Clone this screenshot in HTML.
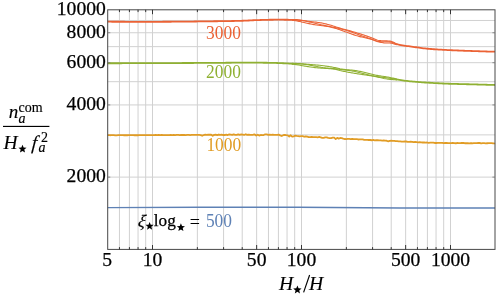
<!DOCTYPE html>
<html><head><meta charset="utf-8"><title>plot</title>
<style>html,body{margin:0;padding:0;background:#fff;overflow:hidden}svg{display:block;will-change:transform;}text{font-family:"Liberation Serif",serif;}</style></head><body>
<svg width="498" height="295" viewBox="0 0 498 295">
<rect width="498" height="295" fill="#fff"/>
<g stroke="#d1d1d1" stroke-width="1" fill="none">
<line x1="119.45" y1="9.80" x2="119.45" y2="249.40"/>
<line x1="129.42" y1="9.80" x2="129.42" y2="249.40"/>
<line x1="138.06" y1="9.80" x2="138.06" y2="249.40"/>
<line x1="145.69" y1="9.80" x2="145.69" y2="249.40"/>
<line x1="152.50" y1="9.80" x2="152.50" y2="249.40"/>
<line x1="197.36" y1="9.80" x2="197.36" y2="249.40"/>
<line x1="223.59" y1="9.80" x2="223.59" y2="249.40"/>
<line x1="242.21" y1="9.80" x2="242.21" y2="249.40"/>
<line x1="256.65" y1="9.80" x2="256.65" y2="249.40"/>
<line x1="268.45" y1="9.80" x2="268.45" y2="249.40"/>
<line x1="278.42" y1="9.80" x2="278.42" y2="249.40"/>
<line x1="287.06" y1="9.80" x2="287.06" y2="249.40"/>
<line x1="294.69" y1="9.80" x2="294.69" y2="249.40"/>
<line x1="301.50" y1="9.80" x2="301.50" y2="249.40"/>
<line x1="346.36" y1="9.80" x2="346.36" y2="249.40"/>
<line x1="372.59" y1="9.80" x2="372.59" y2="249.40"/>
<line x1="391.21" y1="9.80" x2="391.21" y2="249.40"/>
<line x1="405.65" y1="9.80" x2="405.65" y2="249.40"/>
<line x1="417.45" y1="9.80" x2="417.45" y2="249.40"/>
<line x1="427.42" y1="9.80" x2="427.42" y2="249.40"/>
<line x1="436.06" y1="9.80" x2="436.06" y2="249.40"/>
<line x1="443.69" y1="9.80" x2="443.69" y2="249.40"/>
<line x1="450.50" y1="9.80" x2="450.50" y2="249.40"/>
<line x1="107.70" y1="177.11" x2="495.00" y2="177.11"/>
<line x1="107.70" y1="134.89" x2="495.00" y2="134.89"/>
<line x1="107.70" y1="104.93" x2="495.00" y2="104.93"/>
<line x1="107.70" y1="81.69" x2="495.00" y2="81.69"/>
<line x1="107.70" y1="62.70" x2="495.00" y2="62.70"/>
<line x1="107.70" y1="46.65" x2="495.00" y2="46.65"/>
<line x1="107.70" y1="32.74" x2="495.00" y2="32.74"/>
<line x1="107.70" y1="20.47" x2="495.00" y2="20.47"/>
</g>
<path d="M107.70,207.60 L200.00,207.20 L298.00,207.20 L400.00,208.00 L495.00,208.00" fill="none" stroke="#5E81B5" stroke-width="1.45" stroke-linejoin="round"/>
<path d="M107.70,135.13 L109.20,135.16 L110.70,135.23 L112.20,135.06 L113.70,135.12 L115.20,135.33 L116.70,135.28 L118.20,135.22 L119.70,135.22 L121.20,135.18 L122.70,135.22 L124.20,135.24 L125.70,135.11 L127.20,135.26 L128.70,135.22 L130.20,135.21 L131.70,135.12 L133.20,135.13 L134.70,135.25 L136.20,135.04 L137.70,135.26 L139.20,135.17 L140.70,135.13 L142.20,135.08 L143.70,135.14 L145.20,135.16 L146.70,135.21 L148.20,135.15 L149.70,135.20 L151.20,135.21 L152.70,135.15 L154.20,135.17 L155.70,135.02 L157.20,135.17 L158.70,134.95 L160.20,135.04 L161.70,135.00 L163.20,135.15 L164.70,135.08 L166.20,135.10 L167.70,135.14 L169.20,135.03 L170.70,134.97 L172.20,135.04 L173.70,134.93 L175.20,135.03 L176.70,134.87 L178.20,134.94 L179.70,135.10 L181.20,134.97 L182.70,135.01 L184.20,134.98 L185.70,135.08 L187.20,134.94 L188.70,134.87 L190.20,135.08 L191.70,134.95 L193.20,134.91 L194.70,134.79 L196.20,134.95 L197.70,134.95 L199.20,134.95 L200.70,135.07 L202.20,135.81 L203.70,135.03 L205.20,134.66 L206.70,134.94 L208.20,134.74 L209.70,134.73 L211.20,134.66 L212.70,135.75 L214.20,134.87 L215.70,134.64 L217.20,135.04 L218.70,134.51 L220.20,134.93 L221.70,134.60 L223.20,135.02 L224.70,135.02 L226.20,134.58 L227.70,135.03 L229.20,134.46 L230.70,134.70 L232.20,134.93 L233.70,134.39 L235.20,134.91 L236.70,134.90 L238.20,134.32 L239.70,134.87 L241.20,134.49 L242.70,134.55 L244.20,134.96 L245.70,134.19 L247.20,134.92 L248.70,134.55 L250.20,134.96 L251.70,134.81 L253.20,134.74 L254.70,134.43 L256.20,135.54 L257.70,134.71 L259.20,135.57 L260.70,135.00 L262.20,135.03 L263.70,135.03 L265.20,134.31 L266.70,134.46 L268.20,134.90 L269.70,134.71 L271.20,134.91 L272.70,134.63 L274.20,134.85 L275.70,134.78 L277.20,134.97 L278.70,134.69 L280.20,135.36 L281.70,135.98 L283.20,135.23 L284.70,134.83 L286.20,135.11 L287.70,135.35 L289.20,136.46 L290.70,135.28 L292.20,136.70 L293.70,136.30 L295.20,135.66 L296.70,135.96 L298.20,136.09 L299.70,136.37 L301.20,136.13 L302.70,136.16 L304.20,136.74 L305.70,136.29 L307.20,136.62 L308.70,137.04 L310.20,137.14 L311.70,136.91 L313.20,137.04 L314.70,137.05 L316.20,137.16 L317.70,137.30 L319.20,136.99 L320.70,137.36 L322.20,137.87 L323.70,137.91 L325.20,137.45 L326.70,137.41 L328.20,137.93 L329.70,138.12 L331.20,138.14 L332.70,137.69 L334.20,137.68 L335.70,139.09 L337.20,137.90 L338.70,138.64 L340.20,138.00 L341.70,138.16 L343.20,138.70 L344.70,139.01 L346.20,139.20 L347.70,138.91 L349.20,138.97 L350.70,139.07 L352.20,138.84 L353.70,139.15 L355.20,139.09 L356.70,139.18 L358.20,139.49 L359.70,139.40 L361.20,139.47 L362.70,139.44 L364.20,139.92 L365.70,139.89 L367.20,139.95 L368.70,140.02 L370.20,140.01 L371.70,140.26 L373.20,139.98 L374.70,140.41 L376.20,140.27 L377.70,140.22 L379.20,140.29 L380.70,140.40 L382.20,140.63 L383.70,140.52 L385.20,140.63 L386.70,140.77 L388.20,141.28 L389.70,140.84 L391.20,140.76 L392.70,140.89 L394.20,140.88 L395.70,141.09 L397.20,141.15 L398.70,141.38 L400.20,141.29 L401.70,141.54 L403.20,141.56 L404.70,141.52 L406.20,141.50 L407.70,141.78 L409.20,141.94 L410.70,141.72 L412.20,141.81 L413.70,142.19 L415.20,142.00 L416.70,142.10 L418.20,142.37 L419.70,142.15 L421.20,142.31 L422.70,142.50 L424.20,142.31 L425.70,142.55 L427.20,142.50 L428.70,142.87 L430.20,142.72 L431.70,142.63 L433.20,142.59 L434.70,142.98 L436.20,143.02 L437.70,142.97 L439.20,142.78 L440.70,142.97 L442.20,142.81 L443.70,143.15 L445.20,142.98 L446.70,142.98 L448.20,143.10 L449.70,143.05 L451.20,143.10 L452.70,142.90 L454.20,143.13 L455.70,143.27 L457.20,143.01 L458.70,143.14 L460.20,143.17 L461.70,143.02 L463.20,142.92 L464.70,143.24 L466.20,143.24 L467.70,143.03 L469.20,143.31 L470.70,143.15 L472.20,143.27 L473.70,143.08 L475.20,143.18 L476.70,143.10 L478.20,143.00 L479.70,143.00 L481.20,143.31 L482.70,143.04 L484.20,143.15 L485.70,143.33 L487.20,143.23 L488.70,143.15 L490.20,143.21 L491.70,143.07 L493.20,143.33 L494.70,143.34 L495.00,143.20" fill="none" stroke="#E19C24" stroke-width="1.8" stroke-linejoin="round"/>
<path d="M107.70,63.25 L109.20,63.25 L110.70,63.25 L112.20,63.24 L113.70,63.24 L115.20,63.24 L116.70,63.23 L118.20,63.23 L119.70,63.23 L121.20,63.23 L122.70,63.22 L124.20,63.22 L125.70,63.22 L127.20,63.21 L128.70,63.21 L130.20,63.20 L131.70,63.20 L133.20,63.20 L134.70,63.19 L136.20,63.19 L137.70,63.18 L139.20,63.18 L140.70,63.18 L142.20,63.17 L143.70,63.17 L145.20,63.16 L146.70,63.16 L148.20,63.15 L149.70,63.15 L151.20,63.14 L152.70,63.14 L154.20,63.13 L155.70,63.13 L157.20,63.12 L158.70,63.12 L160.20,63.11 L161.70,63.11 L163.20,63.10 L164.70,63.09 L166.20,63.09 L167.70,63.08 L169.20,63.08 L170.70,63.07 L172.20,63.07 L173.70,63.06 L175.20,63.05 L176.70,63.05 L178.20,63.04 L179.70,63.04 L181.20,63.03 L182.70,63.02 L184.20,63.02 L185.70,63.01 L187.20,63.00 L188.70,63.00 L190.20,62.99 L191.70,62.99 L193.20,62.98 L194.70,62.97 L196.20,62.97 L197.70,62.96 L199.20,62.95 L200.70,62.95 L202.20,62.94 L203.70,62.93 L205.20,62.92 L206.70,62.91 L208.20,62.90 L209.70,62.89 L211.20,62.88 L212.70,62.87 L214.20,62.86 L215.70,62.85 L217.20,62.84 L218.70,62.82 L220.20,62.81 L221.70,62.80 L223.20,62.79 L224.70,62.78 L226.20,62.76 L227.70,62.75 L229.20,62.74 L230.70,62.73 L232.20,62.72 L233.70,62.71 L235.20,62.70 L236.70,62.69 L238.20,62.68 L239.70,62.68 L241.20,62.67 L242.70,62.66 L244.20,62.66 L245.70,62.65 L247.20,62.65 L248.70,62.65 L250.20,62.65 L251.70,62.65 L253.20,62.65 L254.70,62.66 L256.20,62.67 L257.70,62.68 L259.20,62.69 L260.70,62.70 L262.20,62.71 L263.70,62.73 L265.20,62.74 L266.70,62.76 L268.20,62.78 L269.70,62.80 L271.20,62.82 L272.70,62.85 L274.20,62.89 L275.70,62.94 L277.20,62.99 L278.70,63.05 L280.20,63.11 L281.70,63.17 L283.20,63.24 L284.70,63.31 L286.20,63.39 L287.70,63.47 L289.20,63.56 L290.70,63.66 L292.20,63.76 L293.00,63.81" fill="none" stroke="#8FB032" stroke-width="1.8" stroke-linejoin="round"/>
<path d="M396.50,79.44 L398.00,79.67 L399.50,79.89 L401.00,80.12 L402.50,80.34 L404.00,80.56 L405.50,80.77 L407.00,80.96 L408.50,81.14 L410.00,81.30 L411.50,81.45 L413.00,81.59 L414.50,81.72 L416.00,81.84 L417.50,81.97 L419.00,82.08 L420.50,82.19 L422.00,82.30 L423.50,82.40 L425.00,82.50 L426.50,82.59 L428.00,82.68 L429.50,82.77 L431.00,82.86 L432.50,82.94 L434.00,83.03 L435.50,83.11 L437.00,83.19 L438.50,83.27 L440.00,83.34 L441.50,83.41 L443.00,83.48 L444.50,83.55 L446.00,83.61 L447.50,83.67 L449.00,83.73 L450.50,83.78 L452.00,83.83 L453.50,83.88 L455.00,83.93 L456.50,83.97 L458.00,84.01 L459.50,84.05 L461.00,84.09 L462.50,84.12 L464.00,84.16 L465.50,84.19 L467.00,84.23 L468.50,84.26 L470.00,84.30 L471.50,84.34 L473.00,84.38 L474.50,84.42 L476.00,84.46 L477.50,84.50 L479.00,84.54 L480.50,84.59 L482.00,84.63 L483.50,84.67 L485.00,84.71 L486.50,84.75 L488.00,84.80 L489.50,84.84 L491.00,84.88 L492.50,84.93 L494.00,84.97 L495.00,85.00" fill="none" stroke="#8FB032" stroke-width="1.8" stroke-linejoin="round"/>
<path d="M292.00,63.29 L293.00,63.36 L294.00,63.36 L295.00,63.37 L296.00,63.39 L297.00,63.43 L298.00,63.48 L299.00,63.55 L300.00,63.62 L301.00,63.69 L302.00,63.76 L303.00,63.86 L304.00,63.96 L305.00,64.06 L306.00,64.15 L307.00,64.24 L308.00,64.32 L309.00,64.40 L310.00,64.48 L311.00,64.56 L312.00,64.63 L313.00,64.70 L314.00,64.78 L315.00,64.86 L316.00,64.94 L317.00,65.03 L318.00,65.12 L319.00,65.22 L320.00,65.33 L321.00,65.44 L322.00,65.56 L323.00,65.69 L324.00,65.82 L325.00,65.96 L326.00,66.10 L327.00,66.24 L328.00,66.40 L329.00,66.55 L330.00,66.72 L331.00,66.89 L332.00,67.06 L333.00,67.24 L334.00,67.43 L335.00,67.62 L336.00,67.81 L337.00,68.01 L338.00,68.26 L339.00,68.52 L340.00,68.76 L341.00,68.95 L342.00,69.11 L343.00,69.26 L344.00,69.39 L345.00,69.50 L346.00,69.60 L347.00,69.69 L348.00,69.78 L349.00,69.86 L350.00,69.94 L351.00,70.03 L352.00,70.12 L353.00,70.23 L354.00,70.34 L355.00,70.48 L356.00,70.62 L357.00,70.79 L358.00,70.97 L359.00,71.16 L360.00,71.37 L361.00,71.59 L362.00,71.82 L363.00,72.06 L364.00,72.31 L365.00,72.56 L366.00,72.82 L367.00,73.08 L368.00,73.34 L369.00,73.59 L370.00,73.84 L371.00,74.09 L372.00,74.33 L373.00,74.57 L374.00,74.79 L375.00,75.00 L376.00,75.21 L377.00,75.40 L378.00,75.58 L379.00,75.75 L380.00,75.90 L381.00,76.05 L382.00,76.18 L383.00,76.31 L384.00,76.43 L385.00,76.58 L386.00,76.74 L387.00,76.91 L388.00,77.09 L389.00,77.28 L390.00,77.48 L391.00,77.69 L392.00,77.91 L393.00,78.13 L394.00,78.36 L395.00,78.60 L396.00,78.83 L397.00,79.07" fill="none" stroke="#8FB032" stroke-width="1.08" stroke-linejoin="round"/>
<path d="M292.00,63.74 L293.00,63.81 L294.00,63.86 L295.00,63.91 L296.00,63.94 L297.00,63.96 L298.00,63.99 L299.00,64.00 L300.00,64.02 L301.00,64.04 L302.00,64.07 L303.00,64.15 L304.00,64.26 L305.00,64.38 L306.00,64.51 L307.00,64.66 L308.00,64.82 L309.00,64.98 L310.00,65.16 L311.00,65.35 L312.00,65.54 L313.00,65.74 L314.00,65.93 L315.00,66.13 L316.00,66.33 L317.00,66.53 L318.00,66.73 L319.00,66.92 L320.00,67.10 L321.00,67.27 L322.00,67.43 L323.00,67.59 L324.00,67.72 L325.00,67.85 L326.00,67.96 L327.00,68.06 L328.00,68.16 L329.00,68.24 L330.00,68.32 L331.00,68.40 L332.00,68.47 L333.00,68.54 L334.00,68.62 L335.00,68.70 L336.00,68.79 L337.00,68.89 L338.00,69.05 L339.00,69.23 L340.00,69.40 L341.00,69.53 L342.00,69.65 L343.00,69.77 L344.00,69.88 L345.00,69.99 L346.00,70.11 L347.00,70.23 L348.00,70.35 L349.00,70.49 L350.00,70.63 L351.00,70.78 L352.00,70.95 L353.00,71.13 L354.00,71.33 L355.00,71.54 L356.00,71.76 L357.00,72.00 L358.00,72.24 L359.00,72.50 L360.00,72.75 L361.00,73.02 L362.00,73.28 L363.00,73.55 L364.00,73.81 L365.00,74.07 L366.00,74.32 L367.00,74.57 L368.00,74.81 L369.00,75.03 L370.00,75.25 L371.00,75.46 L372.00,75.67 L373.00,75.86 L374.00,76.04 L375.00,76.22 L376.00,76.39 L377.00,76.54 L378.00,76.69 L379.00,76.84 L380.00,76.97 L381.00,77.10 L382.00,77.22 L383.00,77.34 L384.00,77.45 L385.00,77.56 L386.00,77.68 L387.00,77.81 L388.00,77.95 L389.00,78.10 L390.00,78.26 L391.00,78.42 L392.00,78.60 L393.00,78.77 L394.00,78.96 L395.00,79.14 L396.00,79.33 L397.00,79.52" fill="none" stroke="#8FB032" stroke-width="1.08" stroke-linejoin="round"/>
<path d="M292.00,64.19 L293.00,64.26 L294.00,64.37 L295.00,64.48 L296.00,64.60 L297.00,64.74 L298.00,64.88 L299.00,65.05 L300.00,65.23 L301.00,65.42 L302.00,65.64 L303.00,65.79 L304.00,65.95 L305.00,66.11 L306.00,66.27 L307.00,66.43 L308.00,66.60 L309.00,66.76 L310.00,66.91 L311.00,67.06 L312.00,67.20 L313.00,67.34 L314.00,67.47 L315.00,67.59 L316.00,67.70 L317.00,67.80 L318.00,67.90 L319.00,67.98 L320.00,68.06 L321.00,68.14 L322.00,68.21 L323.00,68.27 L324.00,68.33 L325.00,68.38 L326.00,68.43 L327.00,68.49 L328.00,68.55 L329.00,68.61 L330.00,68.69 L331.00,68.78 L332.00,68.88 L333.00,68.99 L334.00,69.12 L335.00,69.28 L336.00,69.45 L337.00,69.64 L338.00,69.89 L339.00,70.18 L340.00,70.46 L341.00,70.70 L342.00,70.93 L343.00,71.16 L344.00,71.38 L345.00,71.59 L346.00,71.79 L347.00,71.99 L348.00,72.17 L349.00,72.36 L350.00,72.54 L351.00,72.71 L352.00,72.88 L353.00,73.05 L354.00,73.21 L355.00,73.38 L356.00,73.54 L357.00,73.70 L358.00,73.86 L359.00,74.02 L360.00,74.17 L361.00,74.32 L362.00,74.47 L363.00,74.62 L364.00,74.76 L365.00,74.91 L366.00,75.06 L367.00,75.20 L368.00,75.35 L369.00,75.50 L370.00,75.65 L371.00,75.81 L372.00,75.98 L373.00,76.15 L374.00,76.34 L375.00,76.53 L376.00,76.72 L377.00,76.93 L378.00,77.14 L379.00,77.36 L380.00,77.58 L381.00,77.81 L382.00,78.04 L383.00,78.27 L384.00,78.50 L385.00,78.68 L386.00,78.84 L387.00,78.99 L388.00,79.13 L389.00,79.26 L390.00,79.38 L391.00,79.48 L392.00,79.58 L393.00,79.66 L394.00,79.74 L395.00,79.82 L396.00,79.89 L397.00,79.97" fill="none" stroke="#8FB032" stroke-width="1.08" stroke-linejoin="round"/>
<path d="M107.70,21.70 L109.20,21.71 L110.70,21.72 L112.20,21.73 L113.70,21.73 L115.20,21.74 L116.70,21.75 L118.20,21.75 L119.70,21.76 L121.20,21.76 L122.70,21.77 L124.20,21.77 L125.70,21.78 L127.20,21.78 L128.70,21.78 L130.20,21.79 L131.70,21.79 L133.20,21.79 L134.70,21.79 L136.20,21.79 L137.70,21.80 L139.20,21.80 L140.70,21.80 L142.20,21.80 L143.70,21.80 L145.20,21.80 L146.70,21.80 L148.20,21.80 L149.70,21.80 L151.20,21.80 L152.70,21.80 L154.20,21.80 L155.70,21.79 L157.20,21.79 L158.70,21.79 L160.20,21.78 L161.70,21.78 L163.20,21.77 L164.70,21.76 L166.20,21.75 L167.70,21.75 L169.20,21.74 L170.70,21.73 L172.20,21.72 L173.70,21.71 L175.20,21.70 L176.70,21.68 L178.20,21.67 L179.70,21.66 L181.20,21.65 L182.70,21.63 L184.20,21.62 L185.70,21.60 L187.20,21.59 L188.70,21.57 L190.20,21.56 L191.70,21.54 L193.20,21.53 L194.70,21.51 L196.20,21.49 L197.70,21.47 L199.20,21.46 L200.70,21.44 L202.20,21.42 L203.70,21.40 L205.20,21.39 L206.70,21.37 L208.20,21.35 L209.70,21.33 L211.20,21.31 L212.70,21.29 L214.20,21.27 L215.70,21.25 L217.20,21.24 L218.70,21.22 L220.20,21.20 L221.70,21.18 L223.20,21.16 L224.70,21.14 L226.20,21.11 L227.70,21.09 L229.20,21.06 L230.70,21.04 L232.20,21.01 L233.70,20.98 L235.20,20.95 L236.70,20.91 L238.20,20.88 L239.70,20.84 L241.20,20.80 L242.70,20.76 L244.20,20.70 L245.70,20.63 L247.20,20.55 L248.70,20.48 L250.20,20.40 L251.70,20.32 L253.20,20.25 L254.70,20.18 L256.20,20.12 L257.70,20.08 L259.20,20.04 L260.70,19.99 L262.20,19.95 L263.70,19.91 L265.20,19.87 L266.70,19.84 L268.20,19.80 L269.70,19.77 L271.20,19.75 L272.70,19.73 L274.20,19.71 L275.70,19.70 L277.20,19.70 L278.70,19.70 L280.20,19.71 L281.70,19.71 L283.20,19.72 L284.70,19.74 L286.20,19.75 L287.70,19.77 L289.20,19.79 L290.70,19.82 L292.20,19.89 L293.00,19.94" fill="none" stroke="#EB6235" stroke-width="1.8" stroke-linejoin="round"/>
<path d="M396.50,44.10 L398.00,44.46 L399.50,44.78 L401.00,45.08 L402.50,45.35 L404.00,45.60 L405.50,45.82 L407.00,46.02 L408.50,46.20 L410.00,46.40 L411.50,46.61 L413.00,46.83 L414.50,47.05 L416.00,47.26 L417.50,47.47 L419.00,47.67 L420.50,47.88 L422.00,48.08 L423.50,48.28 L425.00,48.46 L426.50,48.63 L428.00,48.77 L429.50,48.90 L431.00,49.02 L432.50,49.13 L434.00,49.24 L435.50,49.35 L437.00,49.44 L438.50,49.54 L440.00,49.63 L441.50,49.71 L443.00,49.80 L444.50,49.88 L446.00,49.95 L447.50,50.03 L449.00,50.10 L450.50,50.18 L452.00,50.25 L453.50,50.32 L455.00,50.39 L456.50,50.45 L458.00,50.52 L459.50,50.58 L461.00,50.64 L462.50,50.70 L464.00,50.75 L465.50,50.81 L467.00,50.87 L468.50,50.92 L470.00,50.97 L471.50,51.02 L473.00,51.07 L474.50,51.12 L476.00,51.17 L477.50,51.22 L479.00,51.27 L480.50,51.31 L482.00,51.36 L483.50,51.40 L485.00,51.44 L486.50,51.49 L488.00,51.53 L489.50,51.57 L491.00,51.60 L492.50,51.64 L494.00,51.68 L495.00,51.70" fill="none" stroke="#EB6235" stroke-width="1.8" stroke-linejoin="round"/>
<path d="M292.00,19.43 L293.00,19.49 L294.00,19.50 L295.00,19.52 L296.00,19.56 L297.00,19.63 L298.00,19.73 L299.00,19.85 L300.00,19.98 L301.00,20.12 L302.00,20.25 L303.00,20.42 L304.00,20.58 L305.00,20.74 L306.00,20.89 L307.00,21.03 L308.00,21.17 L309.00,21.30 L310.00,21.43 L311.00,21.55 L312.00,21.67 L313.00,21.80 L314.00,21.92 L315.00,22.04 L316.00,22.16 L317.00,22.29 L318.00,22.42 L319.00,22.56 L320.00,22.72 L321.00,22.88 L322.00,23.06 L323.00,23.25 L324.00,23.45 L325.00,23.67 L326.00,23.90 L327.00,24.15 L328.00,24.42 L329.00,24.69 L330.00,24.98 L331.00,25.29 L332.00,25.60 L333.00,25.91 L334.00,26.24 L335.00,26.56 L336.00,26.89 L337.00,27.21 L338.00,27.53 L339.00,27.84 L340.00,28.14 L341.00,28.44 L342.00,28.73 L343.00,29.02 L344.00,29.29 L345.00,29.55 L346.00,29.81 L347.00,30.07 L348.00,30.33 L349.00,30.59 L350.00,30.87 L351.00,31.14 L352.00,31.43 L353.00,31.71 L354.00,32.01 L355.00,32.30 L356.00,32.60 L357.00,32.90 L358.00,33.20 L359.00,33.50 L360.00,33.81 L361.00,34.12 L362.00,34.44 L363.00,34.76 L364.00,35.09 L365.00,35.43 L366.00,35.78 L367.00,36.13 L368.00,36.48 L369.00,36.84 L370.00,37.20 L371.00,37.57 L372.00,37.94 L373.00,38.34 L374.00,38.77 L375.00,39.20 L376.00,39.61 L377.00,39.97 L378.00,40.26 L379.00,40.45 L380.00,40.57 L381.00,40.66 L382.00,40.72 L383.00,40.77 L384.00,40.79 L385.00,40.83 L386.00,40.87 L387.00,40.90 L388.00,40.94 L389.00,41.00 L390.00,41.10 L391.00,41.31 L392.00,41.64 L393.00,42.06 L394.00,42.52 L395.00,42.98 L396.00,43.41 L397.00,43.77" fill="none" stroke="#EB6235" stroke-width="1.08" stroke-linejoin="round"/>
<path d="M292.00,19.88 L293.00,19.94 L294.00,20.01 L295.00,20.06 L296.00,20.11 L297.00,20.16 L298.00,20.23 L299.00,20.30 L300.00,20.38 L301.00,20.47 L302.00,20.56 L303.00,20.71 L304.00,20.88 L305.00,21.05 L306.00,21.24 L307.00,21.45 L308.00,21.66 L309.00,21.88 L310.00,22.11 L311.00,22.34 L312.00,22.58 L313.00,22.83 L314.00,23.07 L315.00,23.31 L316.00,23.55 L317.00,23.79 L318.00,24.03 L319.00,24.26 L320.00,24.48 L321.00,24.71 L322.00,24.92 L323.00,25.14 L324.00,25.35 L325.00,25.56 L326.00,25.77 L327.00,25.97 L328.00,26.18 L329.00,26.38 L330.00,26.59 L331.00,26.79 L332.00,27.00 L333.00,27.21 L334.00,27.43 L335.00,27.65 L336.00,27.87 L337.00,28.09 L338.00,28.32 L339.00,28.55 L340.00,28.78 L341.00,29.02 L342.00,29.27 L343.00,29.52 L344.00,29.78 L345.00,30.05 L346.00,30.32 L347.00,30.60 L348.00,30.90 L349.00,31.22 L350.00,31.55 L351.00,31.90 L352.00,32.25 L353.00,32.62 L354.00,32.99 L355.00,33.36 L356.00,33.74 L357.00,34.11 L358.00,34.48 L359.00,34.84 L360.00,35.20 L361.00,35.55 L362.00,35.90 L363.00,36.25 L364.00,36.60 L365.00,36.94 L366.00,37.28 L367.00,37.61 L368.00,37.95 L369.00,38.28 L370.00,38.61 L371.00,38.94 L372.00,39.27 L373.00,39.63 L374.00,40.02 L375.00,40.41 L376.00,40.78 L377.00,41.11 L378.00,41.37 L379.00,41.54 L380.00,41.63 L381.00,41.71 L382.00,41.76 L383.00,41.80 L384.00,41.81 L385.00,41.82 L386.00,41.81 L387.00,41.80 L388.00,41.80 L389.00,41.82 L390.00,41.87 L391.00,42.04 L392.00,42.33 L393.00,42.70 L394.00,43.11 L395.00,43.53 L396.00,43.91 L397.00,44.22" fill="none" stroke="#EB6235" stroke-width="1.08" stroke-linejoin="round"/>
<path d="M292.00,20.33 L293.00,20.39 L294.00,20.51 L295.00,20.64 L296.00,20.77 L297.00,20.93 L298.00,21.13 L299.00,21.35 L300.00,21.59 L301.00,21.85 L302.00,22.13 L303.00,22.34 L304.00,22.56 L305.00,22.78 L306.00,23.00 L307.00,23.22 L308.00,23.44 L309.00,23.65 L310.00,23.86 L311.00,24.06 L312.00,24.25 L313.00,24.43 L314.00,24.60 L315.00,24.76 L316.00,24.92 L317.00,25.06 L318.00,25.20 L319.00,25.32 L320.00,25.45 L321.00,25.57 L322.00,25.70 L323.00,25.82 L324.00,25.96 L325.00,26.09 L326.00,26.24 L327.00,26.40 L328.00,26.57 L329.00,26.75 L330.00,26.95 L331.00,27.17 L332.00,27.41 L333.00,27.66 L334.00,27.93 L335.00,28.22 L336.00,28.52 L337.00,28.83 L338.00,29.16 L339.00,29.50 L340.00,29.84 L341.00,30.20 L342.00,30.55 L343.00,30.92 L344.00,31.28 L345.00,31.64 L346.00,32.00 L347.00,32.36 L348.00,32.73 L349.00,33.09 L350.00,33.46 L351.00,33.82 L352.00,34.18 L353.00,34.53 L354.00,34.87 L355.00,35.20 L356.00,35.52 L357.00,35.81 L358.00,36.09 L359.00,36.36 L360.00,36.61 L361.00,36.86 L362.00,37.09 L363.00,37.32 L364.00,37.55 L365.00,37.78 L366.00,38.01 L367.00,38.25 L368.00,38.49 L369.00,38.74 L370.00,39.01 L371.00,39.29 L372.00,39.58 L373.00,39.92 L374.00,40.31 L375.00,40.72 L376.00,41.12 L377.00,41.50 L378.00,41.82 L379.00,42.06 L380.00,42.25 L381.00,42.42 L382.00,42.58 L383.00,42.73 L384.00,42.86 L385.00,42.93 L386.00,42.97 L387.00,42.98 L388.00,42.98 L389.00,42.98 L390.00,42.99 L391.00,43.10 L392.00,43.31 L393.00,43.59 L394.00,43.90 L395.00,44.20 L396.00,44.47 L397.00,44.67" fill="none" stroke="#EB6235" stroke-width="1.08" stroke-linejoin="round"/>
<rect x="107.70" y="9.80" width="387.30" height="239.60" fill="none" stroke="#484848" stroke-width="1"/>
<g stroke="#222" stroke-width="0.9">
<line x1="119.45" y1="9.80" x2="119.45" y2="12.10"/>
<line x1="119.45" y1="249.40" x2="119.45" y2="247.10"/>
<line x1="129.42" y1="9.80" x2="129.42" y2="12.10"/>
<line x1="129.42" y1="249.40" x2="129.42" y2="247.10"/>
<line x1="138.06" y1="9.80" x2="138.06" y2="12.10"/>
<line x1="138.06" y1="249.40" x2="138.06" y2="247.10"/>
<line x1="145.69" y1="9.80" x2="145.69" y2="12.10"/>
<line x1="145.69" y1="249.40" x2="145.69" y2="247.10"/>
<line x1="152.50" y1="9.80" x2="152.50" y2="14.20"/>
<line x1="152.50" y1="249.40" x2="152.50" y2="245.00"/>
<line x1="197.36" y1="9.80" x2="197.36" y2="12.10"/>
<line x1="197.36" y1="249.40" x2="197.36" y2="247.10"/>
<line x1="223.59" y1="9.80" x2="223.59" y2="12.10"/>
<line x1="223.59" y1="249.40" x2="223.59" y2="247.10"/>
<line x1="242.21" y1="9.80" x2="242.21" y2="12.10"/>
<line x1="242.21" y1="249.40" x2="242.21" y2="247.10"/>
<line x1="256.65" y1="9.80" x2="256.65" y2="14.20"/>
<line x1="256.65" y1="249.40" x2="256.65" y2="245.00"/>
<line x1="268.45" y1="9.80" x2="268.45" y2="12.10"/>
<line x1="268.45" y1="249.40" x2="268.45" y2="247.10"/>
<line x1="278.42" y1="9.80" x2="278.42" y2="12.10"/>
<line x1="278.42" y1="249.40" x2="278.42" y2="247.10"/>
<line x1="287.06" y1="9.80" x2="287.06" y2="12.10"/>
<line x1="287.06" y1="249.40" x2="287.06" y2="247.10"/>
<line x1="294.69" y1="9.80" x2="294.69" y2="12.10"/>
<line x1="294.69" y1="249.40" x2="294.69" y2="247.10"/>
<line x1="301.50" y1="9.80" x2="301.50" y2="14.20"/>
<line x1="301.50" y1="249.40" x2="301.50" y2="245.00"/>
<line x1="346.36" y1="9.80" x2="346.36" y2="12.10"/>
<line x1="346.36" y1="249.40" x2="346.36" y2="247.10"/>
<line x1="372.59" y1="9.80" x2="372.59" y2="12.10"/>
<line x1="372.59" y1="249.40" x2="372.59" y2="247.10"/>
<line x1="391.21" y1="9.80" x2="391.21" y2="12.10"/>
<line x1="391.21" y1="249.40" x2="391.21" y2="247.10"/>
<line x1="405.65" y1="9.80" x2="405.65" y2="14.20"/>
<line x1="405.65" y1="249.40" x2="405.65" y2="245.00"/>
<line x1="417.45" y1="9.80" x2="417.45" y2="12.10"/>
<line x1="417.45" y1="249.40" x2="417.45" y2="247.10"/>
<line x1="427.42" y1="9.80" x2="427.42" y2="12.10"/>
<line x1="427.42" y1="249.40" x2="427.42" y2="247.10"/>
<line x1="436.06" y1="9.80" x2="436.06" y2="12.10"/>
<line x1="436.06" y1="249.40" x2="436.06" y2="247.10"/>
<line x1="443.69" y1="9.80" x2="443.69" y2="12.10"/>
<line x1="443.69" y1="249.40" x2="443.69" y2="247.10"/>
<line x1="450.50" y1="9.80" x2="450.50" y2="14.20"/>
<line x1="450.50" y1="249.40" x2="450.50" y2="245.00"/>
</g>
<g stroke="#777" stroke-width="0.8">
<line x1="107.70" y1="177.11" x2="110.30" y2="177.11"/>
<line x1="495.00" y1="177.11" x2="492.40" y2="177.11"/>
<line x1="107.70" y1="104.93" x2="110.30" y2="104.93"/>
<line x1="495.00" y1="104.93" x2="492.40" y2="104.93"/>
<line x1="107.70" y1="62.70" x2="110.30" y2="62.70"/>
<line x1="495.00" y1="62.70" x2="492.40" y2="62.70"/>
<line x1="107.70" y1="32.74" x2="110.30" y2="32.74"/>
<line x1="495.00" y1="32.74" x2="492.40" y2="32.74"/>
</g>
<text x="107.05" y="265.6" font-size="19.6" text-anchor="middle" fill="#000" stroke="#000" stroke-width="0.25">5</text>
<text x="152.50" y="265.6" font-size="19.6" text-anchor="middle" fill="#000" stroke="#000" stroke-width="0.25">10</text>
<text x="256.65" y="265.6" font-size="19.6" text-anchor="middle" fill="#000" stroke="#000" stroke-width="0.25">50</text>
<text x="301.50" y="265.6" font-size="19.6" text-anchor="middle" fill="#000" stroke="#000" stroke-width="0.25">100</text>
<text x="405.65" y="265.6" font-size="19.6" text-anchor="middle" fill="#000" stroke="#000" stroke-width="0.25">500</text>
<text x="450.50" y="265.6" font-size="19.6" text-anchor="middle" fill="#000" stroke="#000" stroke-width="0.25">1000</text>
<text x="105.8" y="15.00" font-size="19.6" text-anchor="end" fill="#000" stroke="#000" stroke-width="0.25">10000</text>
<text x="105.8" y="37.84" font-size="19.6" text-anchor="end" fill="#000" stroke="#000" stroke-width="0.25">8000</text>
<text x="105.8" y="67.80" font-size="19.6" text-anchor="end" fill="#000" stroke="#000" stroke-width="0.25">6000</text>
<text x="105.8" y="110.03" font-size="19.6" text-anchor="end" fill="#000" stroke="#000" stroke-width="0.25">4000</text>
<text x="105.8" y="182.21" font-size="19.6" text-anchor="end" fill="#000" stroke="#000" stroke-width="0.25">2000</text>
<text transform="translate(206.1,38.6) scale(0.945,1)" x="0" y="0" font-size="18.4" fill="#EB6235">3000</text>
<text transform="translate(206.1,77.9) scale(0.945,1)" x="0" y="0" font-size="18.4" fill="#8FB032">2000</text>
<text transform="translate(206.4,151.2) scale(0.945,1)" x="0" y="0" font-size="18.4" fill="#E19C24">1000</text>
<text transform="translate(205.9,226.6) scale(0.945,1)" x="0" y="0" font-size="18.4" fill="#5E81B5">500</text>
<text transform="translate(137.2,226.8) skewX(-10)" font-size="17.5" font-style="italic" fill="#000" stroke="#000" stroke-width="0.15">ξ</text>
<polygon points="149.60,221.90 150.71,224.67 153.69,224.87 151.40,226.78 152.13,229.68 149.60,228.09 147.07,229.68 147.80,226.78 145.51,224.87 148.49,224.67" fill="#000"/>
<text x="153.8" y="225.9" font-size="17.2" fill="#000" stroke="#000" stroke-width="0.25">log</text>
<polygon points="180.90,223.20 182.01,225.97 184.99,226.17 182.70,228.08 183.43,230.98 180.90,229.39 178.37,230.98 179.10,228.08 176.81,226.17 179.79,225.97" fill="#000"/>
<text x="189.8" y="228.4" font-size="18" fill="#000" stroke="#000" stroke-width="0.1">=</text>
<text x="279.0" y="289.9" font-size="19.7" font-style="italic" fill="#000" stroke="#000" stroke-width="0.15">H</text>
<polygon points="297.40,285.50 298.54,288.33 301.58,288.54 299.24,290.50 299.99,293.46 297.40,291.84 294.81,293.46 295.56,290.50 293.22,288.54 296.26,288.33" fill="#000"/>
<line x1="303.6" y1="292.4" x2="309.6" y2="275.0" stroke="#000" stroke-width="1.15"/>
<text x="309.0" y="289.9" font-size="19.7" font-style="italic" fill="#000" stroke="#000" stroke-width="0.15">H</text>
<text x="8.8" y="117.9" font-size="19" font-style="italic" fill="#000" stroke="#000" stroke-width="0.15">n</text>
<text x="18.6" y="111.5" font-size="14" fill="#000" stroke="#000" stroke-width="0.15">com</text>
<text x="18.6" y="123" font-size="14" font-style="italic" fill="#000" stroke="#000" stroke-width="0.15">a</text>
<rect x="3" y="125.85" width="46.4" height="1.15" fill="#000"/>
<text x="3.6" y="149.4" font-size="19.5" font-style="italic" fill="#000" stroke="#000" stroke-width="0.15">H</text>
<polygon points="22.50,144.70 23.61,147.47 26.59,147.67 24.30,149.58 25.03,152.48 22.50,150.89 19.97,152.48 20.70,149.58 18.41,147.67 21.39,147.47" fill="#000"/>
<text transform="translate(31.2,149.4) skewX(-5)" font-size="19.5" font-style="italic" fill="#000" stroke="#000" stroke-width="0.1">f</text>
<text x="40.9" y="142.1" font-size="14" fill="#000" stroke="#000" stroke-width="0.15">2</text>
<text x="38.4" y="152.4" font-size="14" font-style="italic" fill="#000" stroke="#000" stroke-width="0.15">a</text>
</svg></body></html>
